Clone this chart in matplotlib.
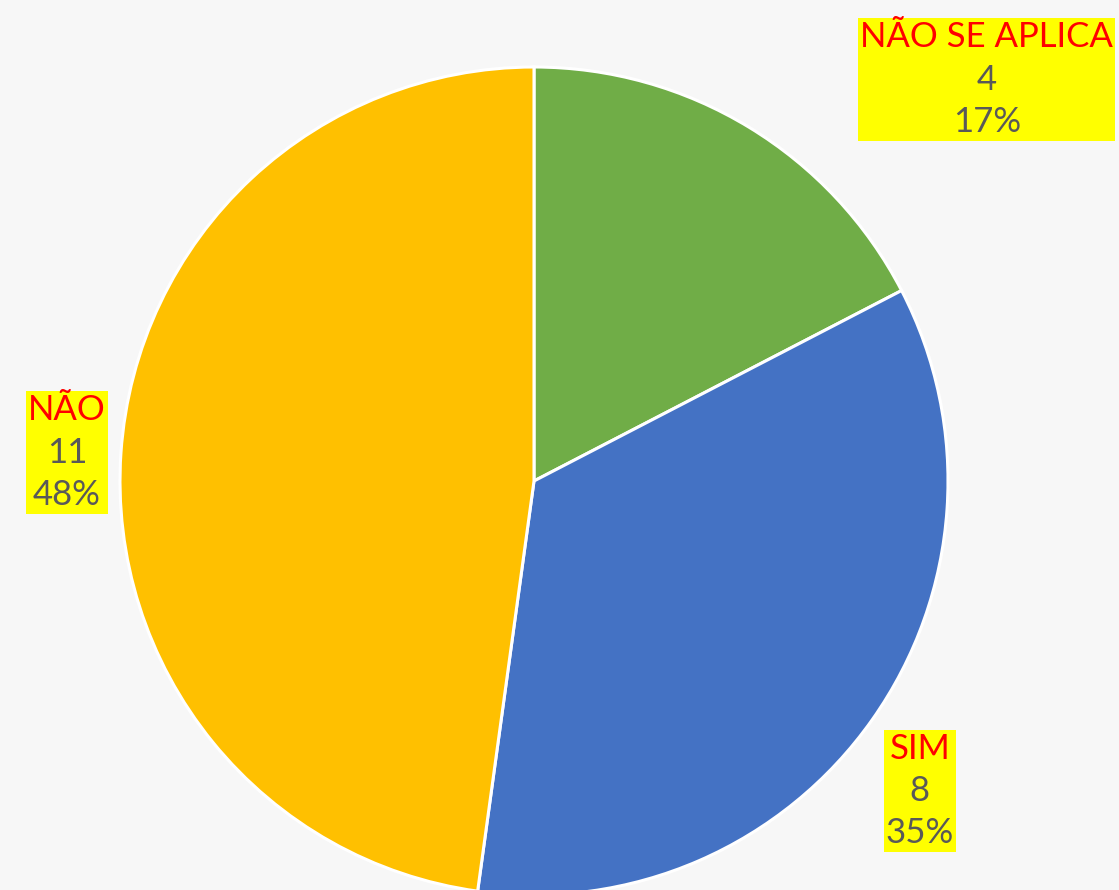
import matplotlib
matplotlib.use("Agg")
import matplotlib.pyplot as plt
from matplotlib.patches import Rectangle
from matplotlib.transforms import Bbox, IdentityTransform

# data
categories = ["NÃO SE APLICA", "SIM", "NÃO"]
counts = [4, 8, 11]
colors = ["#70ad47", "#4472c4", "#ffc000"]
# label anchors in pie units (radius = 1)
label_pos = [(1.094, 0.969), (0.932, -0.749), (-1.128, 0.068)]

BG = "#f7f7f7"
FONT = "Lato"

fig = plt.figure(figsize=(11.19, 8.90), dpi=100)
fig.patch.set_facecolor(BG)

# pie centre ~ (534, 481) px, radius ~ 414 px
cx, cy, r = 534, 481, 414
W, H = 1119, 890
ax = fig.add_axes([(cx - r) / W, (H - cy - r) / H, 2 * r / W, 2 * r / H])
ax.set_facecolor(BG)

ax.pie(counts, colors=colors, startangle=90, counterclock=False, radius=1,
       wedgeprops=dict(edgecolor="white", linewidth=2.2))
ax.set_xlim(-1, 1)
ax.set_ylim(-1, 1)
ax.set_aspect("equal")
ax.axis("off")

total = sum(counts)
fs = 25
step = 30.5  # points between lines
groups = []
for name, n, (x, y) in zip(categories, counts, label_pos):
    pct = f"{round(100 * n / total)}%"
    lines = []
    for txt, col, off in [(name, "#ff0000", step), (str(n), "#595959", 0),
                          (pct, "#595959", -step)]:
        t = ax.annotate(txt, (x, y), xytext=(0, off), textcoords="offset points",
                        ha="center", va="center", fontsize=fs, family=FONT,
                        color=col, annotation_clip=False, zorder=4)
        lines.append(t)
    groups.append(lines)

# yellow background box behind each label group
fig.canvas.draw()
renderer = fig.canvas.get_renderer()
padx, pady = 2, 3
for lines in groups:
    bb = Bbox.union([t.get_window_extent(renderer) for t in lines])
    ax.add_patch(Rectangle((bb.x0 - padx, bb.y0 - pady), bb.width + 2 * padx,
                           bb.height + 2 * pady, transform=IdentityTransform(),
                           facecolor="#ffff00", edgecolor="none",
                           zorder=3, clip_on=False))

fig.savefig("out.png", dpi=100, facecolor=BG)
